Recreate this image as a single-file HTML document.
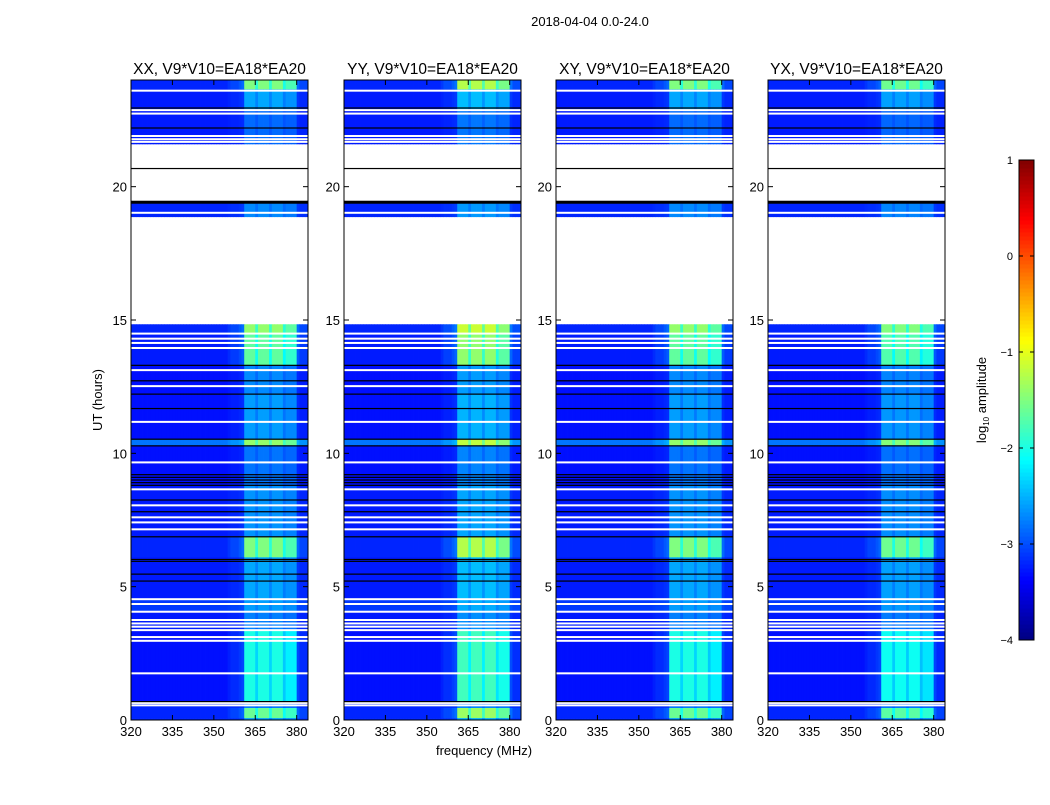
<!DOCTYPE html>
<html><head><meta charset="utf-8"><style>
body{margin:0;background:#fff;width:1050px;height:800px;overflow:hidden;font-family:"Liberation Sans",sans-serif}
svg text{font-family:"Liberation Sans",sans-serif}
</style></head><body>
<svg id="chart" width="1050" height="800" xmlns="http://www.w3.org/2000/svg">
<text x="590" y="26" font-size="13" text-anchor="middle">2018-04-04 0.0-24.0</text>
<text transform="translate(102,400) rotate(-90)" font-size="13" text-anchor="middle">UT (hours)</text>
<text x="484" y="755" font-size="13" text-anchor="middle">frequency (MHz)</text>
<g id="panels"></g>
<g id="cbar"></g>
</svg>
<script>
// ---- data ----
const panelTitles = ["XX, V9*V10=EA18*EA20","YY, V9*V10=EA18*EA20","XY, V9*V10=EA18*EA20","YX, V9*V10=EA18*EA20"];
const panelBandScale = [1.0, 1.15, 1.0, 0.95];
// data segments: [tStart, tEnd, base log10 amp, band boost]
const segStart = [23.65,22.9,21.6,18.87,14.5,13.3,12.2,10.53,10.3,8.8,6.87,6.1,4.53,4.06,3.35,0.69,0.45,0.07,0];
const segEnd   = [24,23.65,22.9,19.45,14.84,14.5,13.3,12.2,10.53,10.3,8.8,6.87,6.1,4.53,4.06,3.35,0.69,0.45,0.07];
const segBase  = [-3.2,-3.25,-3.25,-3.2,-3.2,-3.25,-3.3,-3.3,-2.8,-3.3,-3.25,-3.2,-3.25,-3.1,-3.25,-3.3,-3.2,-3.2,-3.2];
const segBoost = [1.7,0.7,0.4,0.5,1.8,1.6,0.6,0.7,1.4,0.5,0.6,1.7,0.7,0.5,0.5,1.3,0.4,1.6,0.6];
// frequency profile of band boost, 1 MHz bins from 320 to 384
const freqProfile = [0,0,0,0,0,0,0,0,0,0, 0,0,0,0,0,0,0,0,0,0, 0,0,0,0,0,0,0,0,0,0, 0,0,0,0,0,0.05,0.1,0.1,0.1,0.15,
 0.2,1,1,1,1,0.75,1,1,1,1, 0.75,1,1,1,1,0.7,0.85,0.85,0.85,0.85, 0.2,0.1,0.1,0.1];
const whiteLines = [23.6,22.87,22.74,21.9,21.78,21.68,19.02,14.49,14.3,14.14,13.95,13.12,12.52,11.18,9.66,8.65,8.05,7.6,7.41,7.15,4.53,4.35,4.06,3.75,3.62,3.5,3.37,3.11,2.97,1.75,0.64,0.55];
const blackLines = [22.95,22.2,20.68,19.45,13.3,12.72,12.22,11.68,10.53,10.28,9.2,9.1,9.0,8.9,8.8,8.25,7.81,6.87,6.02,5.95,5.47,5.21,0.69];
const xTicks = [320,335,350,365,380];
const yTicks = [0,5,10,15,20];
const cbTicks = [1,0,-1,-2,-3,-4];

// ---- layout ----
const NS="http://www.w3.org/2000/svg";
const panelX=[131,344,556,768], PW=177, PT=80, PB=720;
const fMin=320, fMax=384.1, tMin=0, tMax=24;
function jet(v){v=Math.max(0,Math.min(1,v));
 const r=Math.max(0,Math.min(1,1.5-Math.abs(4*v-3))),g=Math.max(0,Math.min(1,1.5-Math.abs(4*v-2))),b=Math.max(0,Math.min(1,1.5-Math.abs(4*v-1)));
 return `rgb(${Math.round(r*255)},${Math.round(g*255)},${Math.round(b*255)})`;}
function lvlColor(l){return jet((l+4)/5);}
function el(tag,attrs,parent){const e=document.createElementNS(NS,tag);for(const k in attrs)e.setAttribute(k,attrs[k]);parent.appendChild(e);return e;}
const root=document.getElementById('panels');
panelX.forEach((x0,p)=>{
 const xs=f=>x0+(f-fMin)/(fMax-fMin)*PW;
 const ys=t=>PB-(t-tMin)/(tMax-tMin)*(PB-PT);
 const g=el('g',{},root);
 
 
 const title=el('text',{x:x0+PW/2,y:74,'font-size':15.5,'text-anchor':'middle'},g);
 title.textContent=panelTitles[p];
 
 
 const hm=el('g',{},g);
 
 
 segStart.forEach((t0,i)=>{
  const y1=ys(segEnd[i]),y2=ys(t0);
  freqProfile.forEach((w,j)=>{
   const f0=fMin+j,f1=Math.min(fMin+j+1,fMax);
   const lv=segBase[i]+segBoost[i]*w*panelBandScale[p];
   const r=el('rect',{x:xs(f0),y:y1,width:xs(f1)-xs(f0)+0.4,height:y2-y1+0.3,fill:lvlColor(lv)},hm);
   
   
  });
 });
 whiteLines.forEach(t=>{const l=el('rect',{x:x0,y:ys(t)-1,width:PW,height:2,fill:'#fff'},g);
  
  });
 blackLines.forEach(t=>{const l=el('rect',{x:x0,y:ys(t)-0.6,width:PW,height:t===19.45?3:1.2,fill:'#000'},g);
  
  });
 el('rect',{x:x0,y:PT,width:PW,height:PB-PT,fill:'none',stroke:'#000','stroke-width':1},g);
 xTicks.forEach(f=>{const x=xs(f);
  el('line',{x1:x,x2:x,y1:PB,y2:PB-5,stroke:'#000'},g);
  el('line',{x1:x,x2:x,y1:PT,y2:PT+5,stroke:'#000'},g);
  const t=el('text',{x:x,y:PB+16,'font-size':13,'text-anchor':'middle'},g);t.textContent=f;
  
  });
 yTicks.forEach(v=>{const y=ys(v);
  el('line',{x1:x0,x2:x0+5,y1:y,y2:y,stroke:'#000'},g);
  el('line',{x1:x0+PW,x2:x0+PW-5,y1:y,y2:y,stroke:'#000'},g);
  const t=el('text',{x:x0-4,y:y+5,'font-size':13,'text-anchor':'end'},g);t.textContent=v;
  
  });
});
// colorbar
const cb=document.getElementById('cbar');
const cbX=1019,cbW=15,cbT=160,cbB=640,cbMin=-4,cbMax=1;
const cy=v=>cbB-(v-cbMin)/(cbMax-cbMin)*(cbB-cbT);
for(let i=0;i<120;i++){const v0=cbMin+i*(cbMax-cbMin)/120,v1=cbMin+(i+1)*(cbMax-cbMin)/120;
 el('rect',{x:cbX,y:cy(v1),width:cbW,height:cy(v0)-cy(v1)+0.5,fill:lvlColor((v0+v1)/2)},cb);}
el('rect',{x:cbX,y:cbT,width:cbW,height:cbB-cbT,fill:'none',stroke:'#000'},cb);
cbTicks.forEach(v=>{const y=cy(v);
 el('line',{x1:cbX,x2:cbX+4,y1:y,y2:y,stroke:'#000'},cb);
 el('line',{x1:cbX+cbW,x2:cbX+cbW-4,y1:y,y2:y,stroke:'#000'},cb);
 const t=el('text',{x:cbX-6,y:y+4,'font-size':11,'text-anchor':'end'},cb);t.textContent=v<0?'\u2212'+(-v):v;
 
 });
const ct=el('text',{transform:'translate(986,400) rotate(-90)','font-size':13,'text-anchor':'middle'},cb);
ct.innerHTML='log<tspan font-size="8" dy="3">10</tspan><tspan dy="-3"> amplitude</tspan>';


</script>
</body></html>
